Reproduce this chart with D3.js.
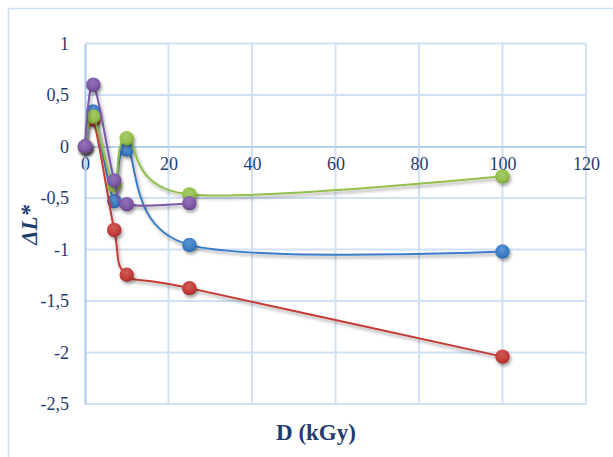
<!DOCTYPE html>
<html><head><meta charset="utf-8">
<script src="https://cdn.jsdelivr.net/npm/d3@7"></script>
<style>body{margin:0;background:#fff}svg{display:block}
text{font-family:"Liberation Serif","Times New Roman","DejaVu Serif",serif}</style>
</head><body><svg id="c" width="613" height="457"></svg>
<script>
const doses = [0, 2, 7, 10, 25, 100];
const blueVals   = [0, 0.34, -0.53, -0.03, -0.955, -1.02];
const redVals    = [0, 0.26, -0.81, -1.245, -1.375, -2.04];
const greenVals  = [0, 0.29, -0.38, 0.08, -0.465, -0.29];
const purpleVals = [0, 0.60, -0.33, -0.56, -0.55];
const xTicks = [0, 20, 40, 60, 80, 100, 120];
const yTicks = [1, 0.5, 0, -0.5, -1, -1.5, -2, -2.5];
const seriesNames = ["blue", "red", "green", "purple"];
const seriesColors = ["#3a7cc6", "#c33b36", "#93bf4b", "#7c56a6"];
const seriesVals = [blueVals, redVals, greenVals, purpleVals];

const FONT = '"Liberation Serif","Times New Roman","DejaVu Serif",serif';
const svg = d3.select("#c");
const x = d3.scaleLinear().domain([0, 120]).range([85, 586]);
const y = d3.scaleLinear().domain([-2.5, 1]).range([404, 43.5]);
const txt = "#1f3c6e";

svg.append("rect").attr("x", 8.5).attr("y", 8.5).attr("width", 620).attr("height", 460)
  .attr("fill", "none").attr("stroke", "#cfe0f4").attr("stroke-width", 1.5);

const defs = svg.append("defs");
const f = defs.append("filter").attr("id", "sh").attr("x", "-50%").attr("y", "-50%").attr("width", "200%").attr("height", "200%");
f.append("feDropShadow").attr("dx", 1.5).attr("dy", 2.5).attr("stdDeviation", 1.6)
  .attr("flood-color", "#000").attr("flood-opacity", 0.35);
seriesColors.forEach((c, i) => {
  const g = defs.append("radialGradient").attr("id", "g" + i)
    .attr("cx", "45%").attr("cy", "35%").attr("r", "65%");
  g.append("stop").attr("offset", "0%").attr("stop-color", d3.interpolateRgb(c, "#fff")(0.18));
  g.append("stop").attr("offset", "70%").attr("stop-color", c);
  g.append("stop").attr("offset", "100%").attr("stop-color", d3.interpolateRgb(c, "#000")(0.2));
});

const grid = svg.append("g");
grid.selectAll("line.v").data(xTicks.filter(d => d > 0)).join("line")
  .attr("x1", d => x(d)).attr("x2", d => x(d)).attr("y1", y(1)).attr("y2", y(-2.5))
  .attr("stroke", "#d0e1f5").attr("stroke-width", 2);
grid.selectAll("line.h").data(yTicks.filter(d => d !== 0)).join("line")
  .attr("x1", x(0)).attr("x2", x(120)).attr("y1", d => y(d)).attr("y2", d => y(d))
  .attr("stroke", "#d0e1f5").attr("stroke-width", 2);

const xAxis = d3.axisBottom(x).tickValues(xTicks).tickSize(0).tickFormat(d3.format("d"));
const gx = svg.append("g").attr("transform", `translate(0,${y(0)})`).call(xAxis)
  .attr("font-family", FONT);
gx.select(".domain").attr("stroke", "#b7d1ef").attr("stroke-width", 2);
gx.selectAll("text").attr("fill", txt).attr("font-size", 18).attr("y", 11).attr("dy", "0.71em");

const yAxis = d3.axisLeft(y).tickValues(yTicks).tickSize(0)
  .tickFormat(d => String(d).replace(".", ","));
const gy = svg.append("g").attr("transform", `translate(${x(0)},0)`).call(yAxis)
  .attr("font-family", FONT);
gy.select(".domain").attr("stroke", "#a9c8ec").attr("stroke-width", 2);
gy.selectAll("text").attr("fill", txt).attr("font-size", 18).attr("x", -16).attr("dy", "0.32em");

svg.append("text").attr("transform", "translate(37,225) rotate(-90)").attr("text-anchor", "middle")
  .attr("fill", txt).attr("font-weight", "bold")
  .attr("font-style", "italic").attr("font-size", 23).text("ΔL*");
svg.append("text").attr("x", 316).attr("y", 440).attr("text-anchor", "middle")
  .attr("fill", txt).attr("font-weight", "bold")
  .attr("font-size", 23).text("D (kGy)");

const line = d3.line().x(d => x(d[0])).y(d => y(d[1])).curve(d3.curveCardinal.tension(0));
seriesVals.forEach((vals, i) => {
  const pts = vals.map((v, j) => [doses[j], v]);
  const g = svg.append("g").attr("class", seriesNames[i]);
  g.append("path").attr("d", line(pts)).attr("fill", "none")
    .attr("stroke", seriesColors[i]).attr("stroke-width", 2).attr("filter", "url(#sh)");
  g.selectAll("circle").data(pts).join("circle")
    .attr("cx", d => x(d[0])).attr("cy", d => y(d[1])).attr("r", 7.2)
    .attr("fill", `url(#g${i})`).attr("filter", "url(#sh)");
});
</script></body></html>
